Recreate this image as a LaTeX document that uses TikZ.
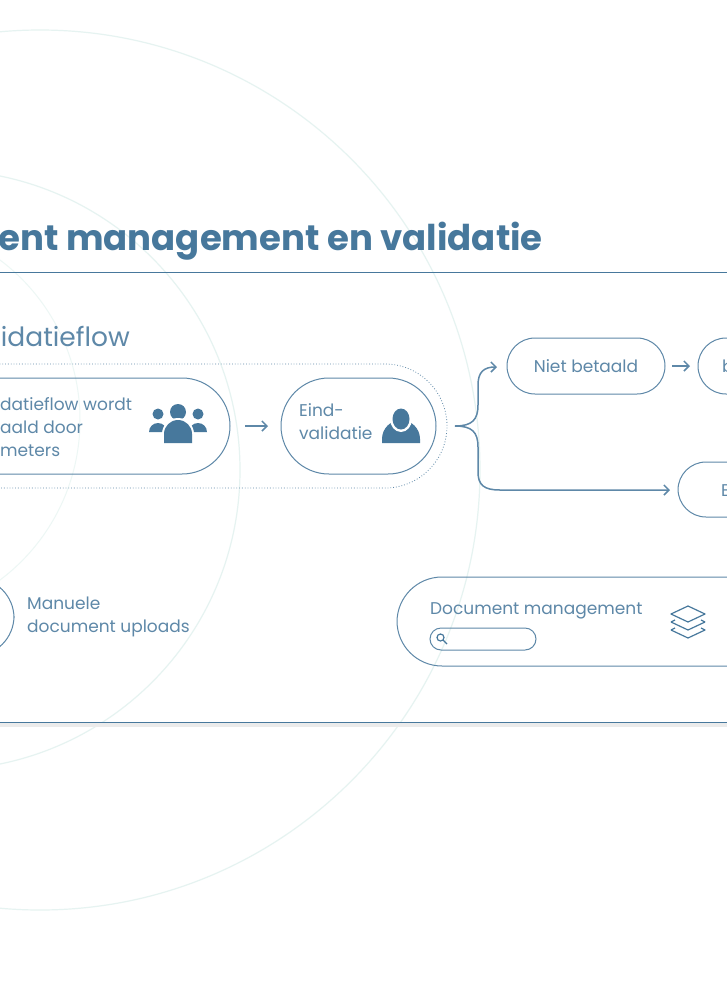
\documentclass[tikz,border=0pt]{standalone}
\usepackage{fontspec}
\setmainfont{Poppins}
\usetikzlibrary{arrows.meta}
\definecolor{dk}{HTML}{47789C}
\definecolor{lt}{HTML}{5E88A8}
\definecolor{mint}{HTML}{E6F3F1}
\tikzset{
  pill/.style={draw=lt,line width=1pt,rounded corners=48pt},
  txt/.style={text=lt,font=\fontsize{17}{23}\selectfont,align=left,inner sep=0pt},
  arr/.style={draw=lt,line width=1.5pt,-{Straight Barb[length=5pt,width=10pt]}},
  icon/.style={fill=dk,draw=none}
}
\begin{document}
\begin{tikzpicture}[x=1pt,y=-1pt]
\useasboundingbox (0,0) rectangle (727,997);
\clip (0,0) rectangle (727,997);
\fill[white] (0,0) rectangle (727,997);
% faint background circles
\draw[mint,line width=1.2pt] (40,470) circle (440);
\draw[mint,line width=1.2pt] (-60,470) circle (300);
\draw[mint!70,line width=1pt] (-120,420) circle (200);
% title
\node[anchor=base east,inner sep=0pt,text=dk,font=\fontsize{35.5}{40}\selectfont\bfseries] (title) at (543,250) {ent management en validatie};
\draw[dk,line width=1pt] (0,272) -- (727,272);
% bottom line with shadow
\fill[black!8] (0,723) rectangle (727,727);
\draw[dk,line width=1pt] (0,722) -- (727,722);
% subtitle
\node[anchor=base east,inner sep=0pt,text=lt,font=\fontsize{26.5}{30}\selectfont] (sub) at (130,346) {idatieflow};
% dotted group
\draw[lt,dotted,line width=0.8pt,rounded corners=62pt] (-20,364) -- (447,364) -- (447,488) -- (-20,488);
% node 1
\draw[pill] (-60,378) rectangle (230,474);
\node[txt,anchor=north west] (n1) at (0,397) {datieflow wordt\\aald door\\meters};
% group icon
\begin{scope}[shift={(178,423)}]
\fill[icon] (0,-11) circle (8);
\fill[icon] (-20,-9) circle (5.5);
\fill[icon] (20,-9) circle (5.5);
\fill[icon] (-29,9) arc[start angle=180,end angle=360,radius=9] -- cycle;
\fill[icon] (11,9) arc[start angle=180,end angle=360,radius=9] -- cycle;
\fill[white] (-16,20) -- (-16,11) arc[start angle=180,end angle=360,radius=16] -- (16,20) -- cycle;
\fill[icon] (-14,20) -- (-14,11) arc[start angle=180,end angle=360,radius=14] -- (14,20) -- cycle;
\end{scope}
\coordinate (a1) at (245,426);
\coordinate (a2) at (268,426);
\draw[arr] (a1) -- (a2);
% Eind-validatie
\draw[pill] (281,378) rectangle (436,474);
\node[txt,anchor=north west] (eind) at (299,403) {Eind-\\validatie};
\begin{scope}[shift={(401,425)}]
\fill[icon] (-19,18) -- (-19,14) arc[start angle=180,end angle=360,radius=19] -- (19,18) -- cycle;
\fill[white] (0,-6) ellipse (11 and 13);
\fill[icon] (0,-6) ellipse (8.5 and 10.5);
\end{scope}
% brace arrows
\coordinate (b0) at (455,426);
\coordinate (bt) at (497,367);
\coordinate (bb) at (670,490);
\draw[arr] (b0) .. controls (472,426) and (478,420) .. (478,405) -- (478,385) .. controls (478,372) and (484,367) .. (bt);
\draw[arr] (b0) .. controls (472,426) and (478,432) .. (478,447) -- (478,472) .. controls (478,485) and (484,490) .. (500,490) -- (bb);
% Niet betaald
\draw[pill,rounded corners=28pt] (507,338) rectangle (665,394);
\node[txt] (nb) at (586,366) {Niet betaald};
\draw[arr] (672,366) -- (690,366);
\draw[pill,rounded corners=28pt] (698,338) rectangle (800,394);
\node[txt,anchor=west] (b1) at (722,366) {betaald};
% lower right
\draw[pill,rounded corners=28pt] (678,462) rectangle (800,517);
\node[txt,anchor=west] (b2) at (721,490) {Betaald};
% manual uploads
\draw[pill,rounded corners=40pt] (-100,578) rectangle (14,656);
\node[txt,anchor=north west] (man) at (27,597) {Manuele\\document uploads};
% Document management
\draw[pill,rounded corners=45pt] (397,577) rectangle (800,666);
\node[txt,anchor=base west] (dm) at (430,614) {Document management};
\draw[lt,line width=1pt,rounded corners=11pt] (430,628) rectangle (536,650);
\draw[dk,line width=1.2pt] (440.5,637.5) circle (3.5) (443,640) -- (447,644);
\begin{scope}[shift={(688,622)},dk,line width=1.2pt,line join=round]
\draw (-17,0) -- (0,8) -- (17,0);
\draw (-17,8) -- (0,16) -- (17,8) -- (13,6);
\draw (-17,8) -- (-13,6);
\draw (0,-16) -- (17,-8) -- (0,0) -- (-17,-8) -- cycle;
\draw (-17,0) -- (-13,-2) (17,0) -- (13,-2);
\end{scope}
\end{tikzpicture}
\end{document}
